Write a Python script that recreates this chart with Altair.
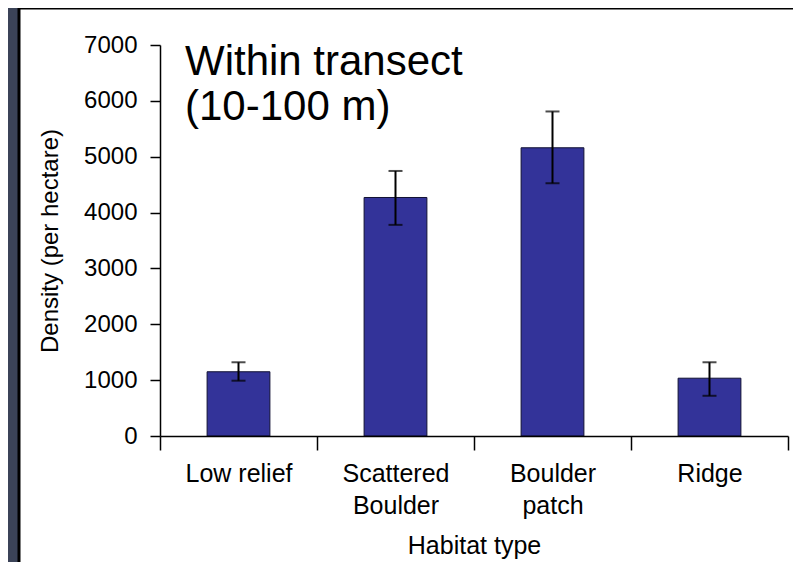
import json
import altair as alt
import pandas as pd

# ---- data ----
categories = ["Low relief", "Scattered\nBoulder", "Boulder\npatch", "Ridge"]
density = [1150, 4270, 5160, 1035]
err_low = [990, 3780, 4525, 720]
err_high = [1320, 4745, 5810, 1320]
y_ticks = [0, 1000, 2000, 3000, 4000, 5000, 6000, 7000]
annotation = ["Within transect", "(10-100 m)"]

FONT = "Liberation Sans"

df = pd.DataFrame({
    "category": categories,
    "idx": list(range(len(categories))),
    "density": density,
    "lo": err_low,
    "hi": err_high,
})
df["x0"] = df["idx"] + 0.3
df["x1"] = df["idx"] + 0.7
df["mid"] = df["idx"] + 0.5

# label expression for the category axis (labels at band centres, ticks at boundaries)
parts = []
for i, c in enumerate(categories):
    parts.append(f"datum.value == {i + 0.5} ? {json.dumps(c.split(chr(10)))}")
label_expr = " : ".join(parts) + " : ''"
x_vals = [i * 0.5 for i in range(2 * len(categories) + 1)]

x_scale = alt.Scale(domain=[0, len(categories)], nice=False, zero=False)
y_scale = alt.Scale(domain=[0, 7000], nice=False)

x_axis = alt.Axis(
    title="Habitat type", values=x_vals, labelExpr=label_expr, grid=False,
    labelOverlap=False, labelFlush=False, labelFont=FONT, labelFontSize=25,
    labelColor="black", labelLineHeight=32, labelPadding=11, labelBaseline="top",
    tickSize=14, tickColor="black", tickWidth=1.5,
    tickOpacity={"condition": {"test": "datum.value % 1 != 0", "value": 0}, "value": 1},
    domainColor="black", domainWidth=1.5, zindex=2,
    titleFont=FONT, titleFontSize=25, titleFontWeight="normal", titleColor="black",
    titleX=314, titleY=117, titleBaseline="alphabetic", titleAlign="center",
)
y_axis = alt.Axis(
    title="Density (per hectare)", values=y_ticks, format="d", grid=False,
    labelFont=FONT, labelFontSize=24, labelColor="black", labelPadding=13,
    tickSize=10, tickColor="black", tickWidth=1.5,
    domainColor="black", domainWidth=1.5, zindex=2,
    titleFont=FONT, titleFontSize=24, titleFontWeight="normal", titleColor="black",
    titleAngle=270, titleX=-110, titleY=195.5, titleBaseline="middle", titleAlign="center",
)

panel = alt.Chart(pd.DataFrame({"p": [0]})).mark_rect(
    fill="white", stroke="black", strokeWidth=3
).encode(x=alt.value(-141), x2=alt.value(700), y=alt.value(-37), y2=alt.value(600))

base = alt.Chart(df)

bars = base.mark_bar(color="#333399", stroke="#111133", strokeWidth=1).encode(
    x=alt.X("x0:Q", scale=x_scale, axis=x_axis),
    x2="x1:Q",
    y=alt.Y("density:Q", scale=y_scale, axis=y_axis),
    y2=alt.datum(0),
)

err = base.mark_rule(color="black", strokeWidth=2).encode(
    x=alt.X("mid:Q", scale=x_scale), y=alt.Y("lo:Q", scale=y_scale), y2="hi:Q"
)
cap_lo = base.mark_tick(color="black", thickness=2, size=14, orient="horizontal").encode(
    x=alt.X("mid:Q", scale=x_scale), y=alt.Y("lo:Q", scale=y_scale)
)
cap_hi = base.mark_tick(color="black", thickness=2, size=14, orient="horizontal").encode(
    x=alt.X("mid:Q", scale=x_scale), y=alt.Y("hi:Q", scale=y_scale)
)

note = alt.Chart(pd.DataFrame({"p": [0]})).mark_text(
    align="left", baseline="alphabetic", font=FONT, fontSize=42, lineHeight=45, color="black"
).encode(x=alt.value(25), y=alt.value(30), text=alt.value(annotation))

chart = alt.layer(panel, bars, err, cap_lo, cap_hi, note).properties(
    width=628, height=391,
    padding={"left": 152, "top": 37, "right": 5, "bottom": 126},
    autosize=alt.AutoSizeParams(type="none"),
    background="#3b4358",
).configure_view(stroke="transparent")

chart.save("out.html", embed_options={"renderer": "svg", "actions": False})
